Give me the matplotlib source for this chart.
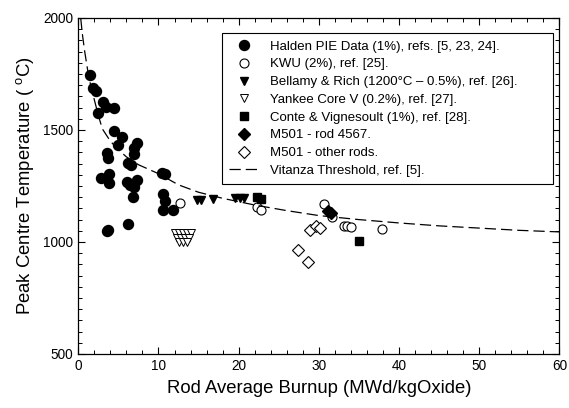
import matplotlib
matplotlib.use('Agg')
import matplotlib.pyplot as plt
from matplotlib.ticker import MultipleLocator

plt.rcParams['font.family'] = ['Liberation Sans', 'DejaVu Sans']

# Halden PIE data (1%)
halden_x = [1.4, 1.8, 2.2, 3.1, 3.5, 4.5, 2.5, 4.5, 5.5, 5.0, 7.3, 7.0, 7.0, 3.6, 3.7,
            6.2, 6.6, 2.8, 3.8, 3.8, 6.1, 7.3, 6.5, 7.0, 6.8, 10.5, 10.8, 10.6, 10.8,
            10.6, 11.8, 6.2, 3.6, 3.7]
halden_y = [1746, 1688, 1674, 1625, 1603, 1598, 1576, 1496, 1469, 1433, 1442, 1420, 1393,
            1397, 1375, 1353, 1344, 1286, 1304, 1263, 1268, 1277, 1254, 1246, 1201, 1308,
            1304, 1214, 1183, 1143, 1143, 1080, 1049, 1054]

# KWU (2%)
kwu_x = [12.7, 22.3, 22.8, 30.6, 31.6, 33.1, 33.5, 34.0, 37.9]
kwu_y = [1174, 1158, 1143, 1170, 1112, 1071, 1071, 1067, 1058]

# Bellamy & Rich
bellamy_x = [14.8, 15.3, 16.8, 19.5, 20.2, 20.7]
bellamy_y = [1188, 1188, 1190, 1195, 1195, 1195]

# Yankee Core V
yankee_x = [12.0, 12.5, 13.0, 13.5, 14.0, 12.3, 12.8, 13.3, 13.8, 12.6, 13.1, 13.6]
yankee_y = [1040, 1040, 1040, 1040, 1038, 1020, 1020, 1018, 1020, 1000, 1000, 1002]

# Conte & Vignesoult
conte_x = [22.3, 22.8, 35.0]
conte_y = [1203, 1192, 1004]

# M501 rod 4567
rod4567_x = [31.1, 31.5]
rod4567_y = [1138, 1128]

# M501 other rods
m501_x = [27.4, 28.6, 28.9, 29.7, 30.1]
m501_y = [965, 912, 1055, 1070, 1062]

# Vitanza threshold
vit_x = [0.3, 0.5, 0.8, 1.2, 1.6, 2, 2.5, 3, 4, 5, 6, 7.5, 10, 12.5, 15, 18, 22, 26,
         30, 35, 40, 45, 50, 55, 60]
vit_y = [2000, 1930, 1850, 1760, 1690, 1635, 1565, 1505, 1450, 1412, 1380, 1345, 1305,
         1255, 1222, 1195, 1165, 1140, 1118, 1100, 1085, 1072, 1062, 1052, 1045]

fig = plt.figure(figsize=(5.69, 4.08), dpi=100)
ax = fig.add_axes([0.1376, 0.1324, 0.8454, 0.8235])

ax.plot(halden_x, halden_y, 'o', color='black', ms=7.2, ls='none',
        label='Halden PIE Data (1%), refs. [5, 23, 24].')
ax.plot(kwu_x, kwu_y, 'o', mfc='white', mec='black', mew=0.8, ms=6.5, ls='none',
        label='KWU (2%), ref. [25].')
ax.plot(bellamy_x, bellamy_y, 'v', color='black', ms=5.5, ls='none',
        label='Bellamy & Rich (1200°C \u2013 0.5%), ref. [26].')
ax.plot(yankee_x, yankee_y, 'v', mfc='white', mec='black', mew=0.7, ms=5.5, ls='none',
        label='Yankee Core V (0.2%), ref. [27].')
ax.plot(conte_x, conte_y, 's', color='black', ms=5.5, ls='none',
        label='Conte & Vignesoult (1%), ref. [28].')
ax.plot(rod4567_x, rod4567_y, 'D', color='black', ms=6, ls='none',
        label='M501 - rod 4567.')
ax.plot(m501_x, m501_y, 'D', mfc='white', mec='black', mew=0.8, ms=6.5, ls='none',
        label='M501 - other rods.')
ax.plot(vit_x, vit_y, color='black', lw=0.9, dashes=(9, 4),
        label='Vitanza Threshold, ref. [5].')

ax.set_xlim(0, 60)
ax.set_ylim(500, 2000)
ax.xaxis.set_major_locator(MultipleLocator(10))
ax.xaxis.set_minor_locator(MultipleLocator(2))
ax.yaxis.set_major_locator(MultipleLocator(500))
ax.yaxis.set_minor_locator(MultipleLocator(50))
ax.tick_params(which='both', direction='in', top=True, right=True, labelsize=9.8)
ax.tick_params(which='major', length=5, width=0.8)
ax.tick_params(which='minor', length=3, width=0.7)
for s in ax.spines.values():
    s.set_linewidth(0.9)

ax.set_xlabel('Rod Average Burnup (MWd/kgOxide)', fontsize=13.3, labelpad=5)
ax.set_ylabel('Peak Centre Temperature ( $^\\mathregular{o}$C)', fontsize=13.3, labelpad=5)

leg = ax.legend(loc='upper left', bbox_to_anchor=(0.299, 0.509, 0.688, 0.446),
                mode='expand', borderaxespad=0, fontsize=9.5,
                frameon=True, fancybox=False, edgecolor='black', framealpha=1,
                handlelength=2.2, handletextpad=0.9, labelspacing=0.42,
                borderpad=0.55, numpoints=1)
leg.get_frame().set_linewidth(0.8)

fig.savefig('out.png', dpi=100)
